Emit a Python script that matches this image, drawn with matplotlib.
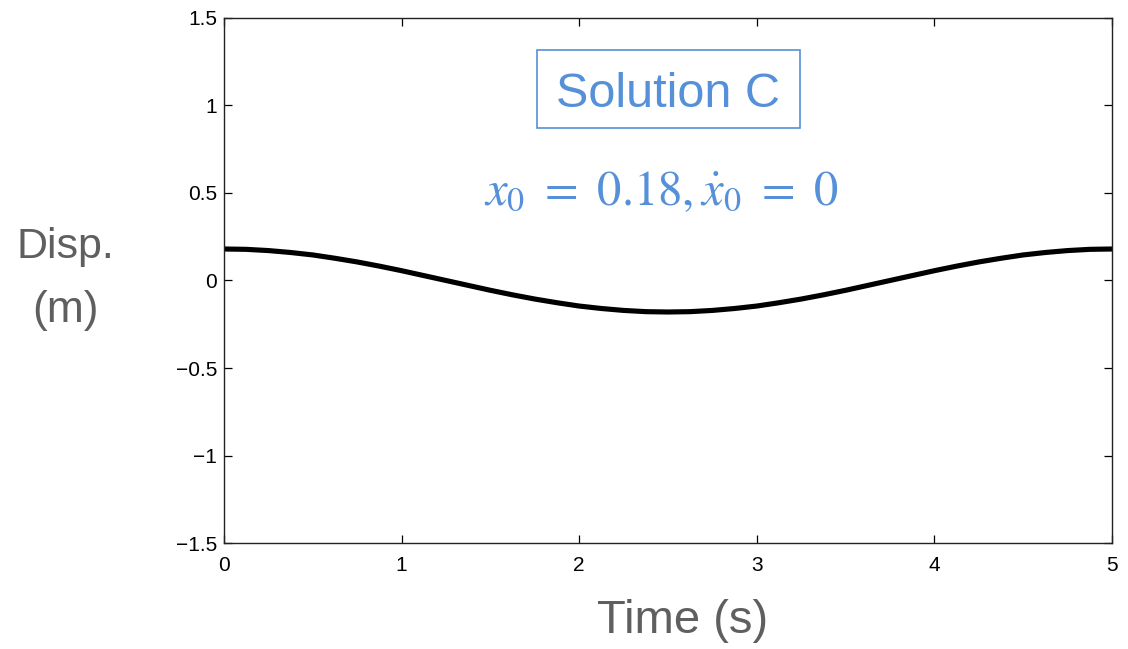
import matplotlib
matplotlib.use("Agg")
import matplotlib.pyplot as plt
from matplotlib.patches import Rectangle

# Displacement response sampled every 0.125 s
time_s = [0.0, 0.125, 0.25, 0.375, 0.5, 0.625, 0.75, 0.875, 1.0, 1.125,
          1.25, 1.375, 1.5, 1.625, 1.75, 1.875, 2.0, 2.125, 2.25, 2.375,
          2.5, 2.625, 2.75, 2.875, 3.0, 3.125, 3.25, 3.375, 3.5, 3.625,
          3.75, 3.875, 4.0, 4.125, 4.25, 4.375, 4.5, 4.625, 4.75, 4.875, 5.0]
disp_m = [0.180, 0.178, 0.171, 0.160, 0.146, 0.127, 0.106, 0.082, 0.056, 0.028,
          0.000, -0.028, -0.056, -0.082, -0.106, -0.127, -0.146, -0.160, -0.171, -0.178,
          -0.180, -0.178, -0.171, -0.160, -0.146, -0.127, -0.106, -0.082, -0.056, -0.028,
          0.000, 0.028, 0.056, 0.082, 0.106, 0.127, 0.146, 0.160, 0.171, 0.178, 0.180]

x_ticks = [0, 1, 2, 3, 4, 5]
y_ticks = [-1.5, -1.0, -0.5, 0.0, 0.5, 1.0, 1.5]
y_tick_labels = ["\u22121.5", "\u22121", "\u22120.5", "0", "0.5", "1", "1.5"]

title_text = "Solution C"
ic_text = r"$x_0\ =\ 0.18,\dot{x}_0\ =\ 0$"

blue = "#5590d8"
gray = "#5f5f5f"

plt.rcParams["font.family"] = ["Liberation Sans", "DejaVu Sans"]
plt.rcParams["mathtext.fontset"] = "stix"

fig = plt.figure(figsize=(11.28, 6.49), dpi=100)
ax = fig.add_axes([0.1986, 0.1633, 0.7872, 0.809])

ax.plot(time_s, disp_m, color="black", linewidth=3.7, solid_capstyle="butt")

ax.set_xlim(0, 5)
ax.set_ylim(-1.5, 1.5)
ax.set_xticks(x_ticks)
ax.set_yticks(y_ticks)
ax.set_yticklabels(y_tick_labels)
ax.tick_params(direction="in", length=6, width=0.9, labelsize=15,
               top=True, right=True, pad=5, colors="black")
ax.tick_params(axis="x", pad=9)
for sp in ax.spines.values():
    sp.set_linewidth(1.0)
    sp.set_color("#222222")

fig.text(0.605, 0.0247, "Time (s)", fontsize=34, color=gray, ha="center", va="baseline")
fig.text(0.058, 0.6025, "Disp.", fontsize=31, color=gray, ha="center", va="baseline")
fig.text(0.058, 0.504, "(m)", fontsize=32, color=gray, ha="center", va="baseline")

# Framed title
ax.add_patch(Rectangle((0.3525, 0.7905), 0.2961, 0.1485, transform=ax.transAxes,
                       facecolor="white", edgecolor=blue, linewidth=1.2, zorder=3))
ax.text(0.5, 0.830, title_text, transform=ax.transAxes, fontsize=35, color=blue,
        ha="center", va="baseline", zorder=4)
ax.text(0.492, 0.644, ic_text, transform=ax.transAxes, fontsize=35, color=blue,
        ha="center", va="baseline")

fig.savefig("out.png", dpi=100, facecolor="white")
